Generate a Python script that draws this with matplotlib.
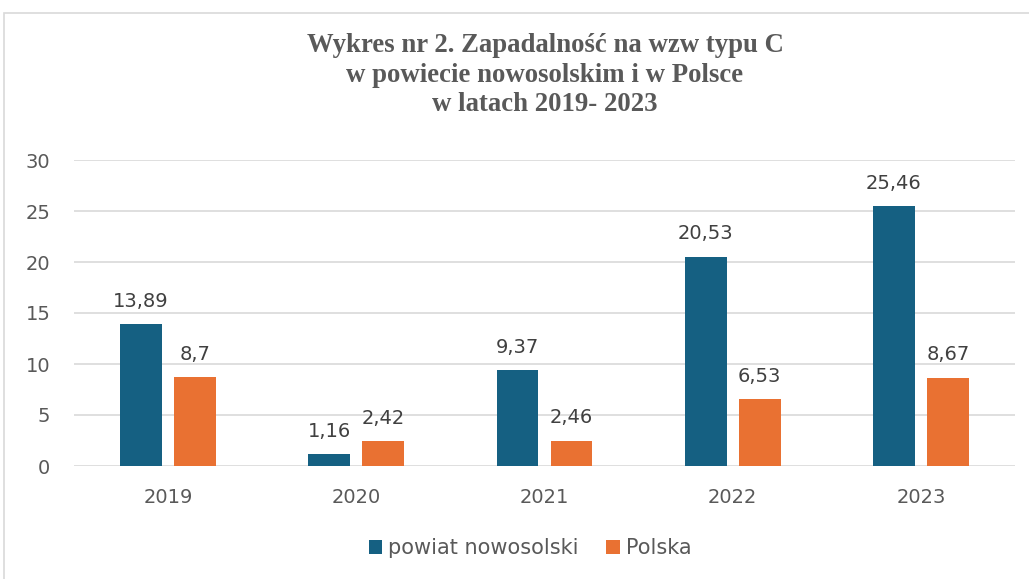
import matplotlib.pyplot as plt
from matplotlib.patches import Rectangle
import numpy as np

years = ["2019", "2020", "2021", "2022", "2023"]
powiat = [13.89, 1.16, 9.37, 20.53, 25.46]
polska = [8.7, 2.42, 2.46, 6.53, 8.67]
series_names = ["powiat nowosolski", "Polska"]
title = "Wykres nr 2. Zapadalność na wzw typu C\nw powiecie nowosolskim i w Polsce\nw latach 2019- 2023"

blue = "#156082"
orange = "#E97132"
gray = "#595959"

W, H = 1029, 579
fig = plt.figure(figsize=(W / 100, H / 100), dpi=100)
plt.rcParams["font.family"] = ["DejaVu Sans"]

# outer chart frame (runs off the right and bottom edge)
fig.patches.append(Rectangle((4 / W, -0.05), 1.1, 1 - 13 / H + 0.05,
                             transform=fig.transFigure, fill=False,
                             edgecolor="#d9d9d9", linewidth=1.2))

ax = fig.add_axes([74 / W, 1 - 466 / H, (1015 - 74) / W, (466 - 160) / H])
x = np.arange(len(years))
w = 0.223
off = 0.1435
b1 = ax.bar(x - off, powiat, w, color=blue, label=series_names[0], zorder=3)
b2 = ax.bar(x + off, polska, w, color=orange, label=series_names[1], zorder=3)

for bars, vals in ((b1, powiat), (b2, polska)):
    for r, v in zip(bars, vals):
        ax.annotate(str(v).replace(".", ","), (r.get_x() + r.get_width() / 2, v),
                    xytext=(0, 12.7), textcoords="offset points",
                    ha="center", va="baseline", fontsize=14, color="#404040")

ax.set_xlim(-0.5, len(years) - 0.5)
ax.set_ylim(0, 30)
ax.set_yticks(range(0, 31, 5))
ax.set_xticks(x)
ax.set_xticklabels(years)
ax.yaxis.grid(True, color="#d9d9d9", linewidth=1.2, zorder=0)
for s in ax.spines.values():
    s.set_visible(False)
ax.tick_params(length=0, labelsize=14, labelcolor=gray)
ax.tick_params(axis="y", pad=17)
ax.tick_params(axis="x", pad=16)

fig.text(545 / W, 1 - 75 / H, title, ha="center", va="center",
         family="Liberation Serif", weight="bold", fontsize=19.3,
         color=gray, linespacing=1.22)

fig.legend(loc="center", bbox_to_anchor=(530 / W, 1 - 548 / H), ncol=2,
           frameon=False, fontsize=15, labelcolor=gray, handlelength=0.65,
           handleheight=0.65, handletextpad=0.3, columnspacing=1.3)

fig.savefig("out.png", dpi=100)
